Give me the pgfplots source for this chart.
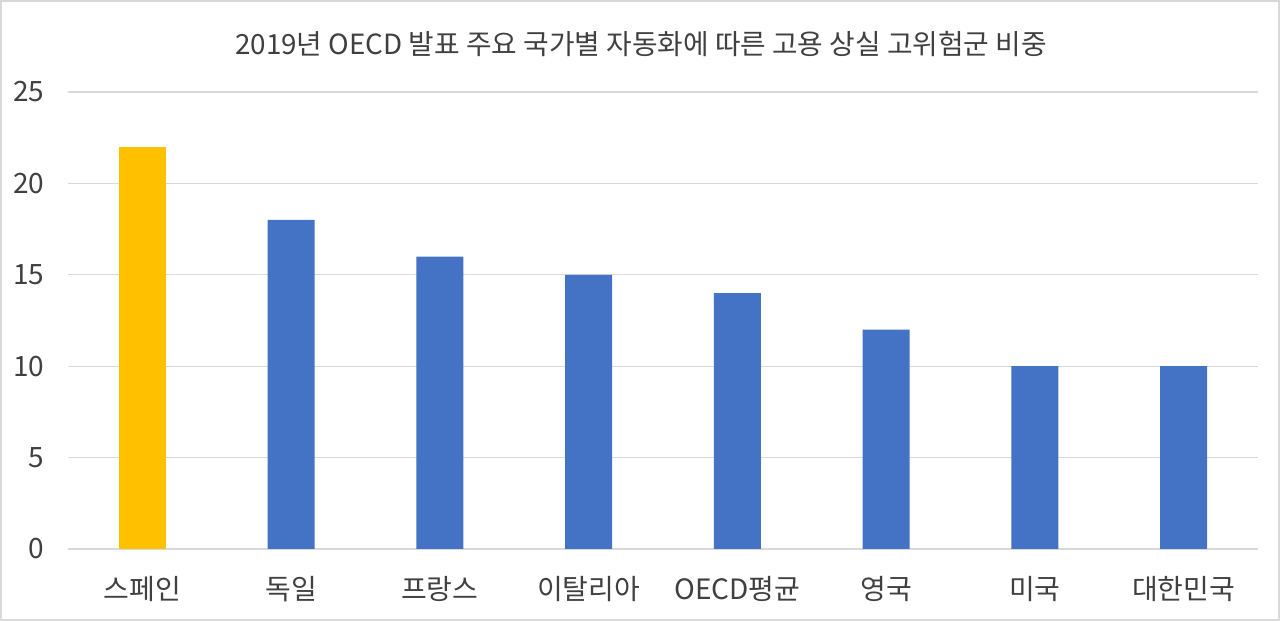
\documentclass[border=0pt]{standalone}
\usepackage{pgfplots}
\pgfplotsset{compat=1.18}
\usepackage{fontspec}
\setmainfont{Noto Sans CJK KR}
\definecolor{barblue}{HTML}{4472C4}
\definecolor{barorange}{HTML}{FFC000}
\definecolor{gridgray}{HTML}{D9D9D9}
\definecolor{textgray}{HTML}{404040}
\begin{document}
\begin{tikzpicture}
\path[use as bounding box, draw=gridgray, line width=2bp] (1bp,1bp) rectangle (1279bp,620bp);
\begin{axis}[
  at={(68bp,72bp)}, anchor=south west,
  scale only axis, width=1190bp, height=457bp,
  xmin=-0.5, xmax=7.5, ymin=0, ymax=25,
  ytick={0,5,10,15,20,25},
  xtick={0,...,7},
  xticklabels={스페인,독일,프랑스,이탈리아,OECD평균,영국,미국,대한민국},
  axis line style={draw=none},
  major tick length=0pt,
  ymajorgrids, grid style={gridgray, line width=1.2bp},
  tick label style={font=\fontsize{28bp}{32bp}\selectfont, text=textgray},
  yticklabel style={xshift=-20bp},
  xticklabel style={yshift=-24bp},
  /pgf/number format/assume math mode=true,
  ybar, bar width=47bp,
  title={2019년 OECD 발표 주요 국가별 자동화에 따른 고용 상실 고위험군 비중},
  title style={font=\fontsize{27.8bp}{32bp}\selectfont, text=textgray, at={(0.5,1)}, yshift=26bp, xshift=-22bp},
]
\addplot[fill=barorange, draw=none, bar shift=0pt] coordinates {(0,22)};
\addplot[fill=barblue, draw=none, bar shift=0pt] coordinates {(1,18) (2,16) (3,15) (4,14) (5,12) (6,10) (7,10)};
\end{axis}
\end{tikzpicture}
\end{document}
